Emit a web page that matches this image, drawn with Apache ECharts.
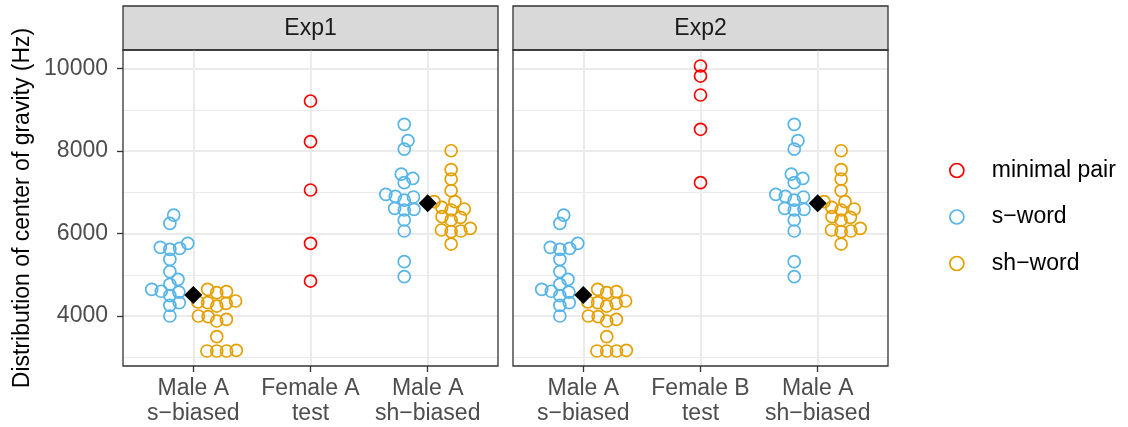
<!DOCTYPE html>
<html>
<head>
<meta charset="utf-8">
<script src="https://cdn.jsdelivr.net/npm/echarts@6/dist/echarts.min.js"></script>
<style>
html, body { margin: 0; padding: 0; background: #ffffff; }
#chart { width: 1128px; height: 427px; }
</style>
</head>
<body>
<div id="chart"></div>
<script>
// ---------------- data ----------------
const panelNames = ['Exp1', 'Exp2'];
const exp1Categories = ['Male A\ns\u2212biased', 'Female A\ntest', 'Male A\nsh\u2212biased'];
const exp2Categories = ['Male A\ns\u2212biased', 'Female B\ntest', 'Male A\nsh\u2212biased'];
const yTickValues = [4000, 6000, 8000, 10000];
const yMinorValues = [3000, 5000, 7000, 9000];
const seriesNames = ['minimal pair', 's\u2212word', 'sh\u2212word'];

// Male A, s-biased condition (same tokens shown in both experiments)
const sBiasedSWord = [4000, 4260, 4323, 4495, 4580, 4600, 4647, 4768, 4890, 5074, 5374, 5617, 5641, 5665, 5762, 6247, 6448];
const sBiasedShWord = [3152, 3152, 3152, 3168, 3499, 3879, 3919, 3984, 4000, 4242, 4307, 4323, 4340, 4364, 4565, 4589, 4647];
// Male A, sh-biased condition
const shBiasedSWord = [4953, 5317, 6061, 6327, 6570, 6586, 6611, 6810, 6885, 6900, 6950, 7232, 7338, 7440, 8048, 8250, 8648];
const shBiasedShWord = [5745, 6044, 6061, 6085, 6126, 6327, 6393, 6408, 6570, 6594, 6635, 6771, 6771, 7038, 7321, 7550, 8007];
// test talkers, minimal pairs
const exp1MinimalPair = [4848, 5762, 7055, 8226, 9212];
const exp2MinimalPair = [7232, 8527, 9358, 9818, 10061];
// condition means (black diamonds)
const exp1Means = [4510, null, 6735];
const exp2Means = [4510, null, 6735];

// ---------------- layout / style ----------------
const FONT = '"Liberation Sans", Arial, Helvetica, sans-serif';
const COLORS = { 'minimal pair': '#FF0000', 's\u2212word': '#56B4E9', 'sh\u2212word': '#E69F00' };
const GRID_LEFT = [123, 513], GRID_TOP = 50, GRID_W = 375, GRID_H = 316, STRIP_TOP = 6;
const X_MIN = 0.4, X_MAX = 3.6, Y_MIN = 2788, Y_MAX = 10449;
const DODGE = 0.2;
const SWARM_Y_PX = 9.0, SWARM_X_PX = 9.8;
const PX_PER_X = GRID_W / (X_MAX - X_MIN), PX_PER_Y = GRID_H / (Y_MAX - Y_MIN);
const GRID_COLOR = '#ebebeb';

// beeswarm ("swarm", ascending priority) offsets in pixels
function swarm(values) {
  const pts = values.map((v, i) => ({ i: i, n: v * PX_PER_Y / SWARM_Y_PX, g: 0 }));
  const order = pts.slice().sort((a, b) => a.n - b.n);
  const placed = [];
  const out = new Array(values.length).fill(0);
  order.forEach(p => {
    const hits = placed.filter(q => Math.abs(q.n - p.n) < 1);
    let best = 0;
    if (hits.length) {
      const offs = hits.map(q => Math.sqrt(1 - (p.n - q.n) * (p.n - q.n)));
      const cands = [0].concat(hits.map((q, j) => q.g + offs[j]), hits.map((q, j) => q.g - offs[j]));
      let bestAbs = Infinity;
      cands.forEach(c => {
        const bad = hits.some(q => (p.n - q.n) * (p.n - q.n) + (c - q.g) * (c - q.g) < 0.999);
        if (!bad && Math.abs(c) < bestAbs) { bestAbs = Math.abs(c); best = c; }
      });
    }
    p.g = best;
    placed.push(p);
    out[p.i] = best * SWARM_X_PX;
  });
  return out;
}

function swarmPoints(values, center) {
  const off = swarm(values);
  return values.map((v, i) => [center + off[i] / PX_PER_X, v]);
}

const panels = [
  { name: panelNames[0], categories: exp1Categories, minimal: exp1MinimalPair, means: exp1Means },
  { name: panelNames[1], categories: exp2Categories, minimal: exp2MinimalPair, means: exp2Means }
];

const grids = [], xAxes = [], yAxes = [], series = [], graphics = [];

panels.forEach((p, gi) => {
  grids.push({ left: GRID_LEFT[gi], top: GRID_TOP, width: GRID_W, height: GRID_H, show: false });
  xAxes.push({
    type: 'value', gridIndex: gi, min: X_MIN, max: X_MAX,
    axisLine: { show: false }, splitLine: { show: false },
    axisTick: { show: true, customValues: [1, 2, 3], length: 6, lineStyle: { color: '#333333', width: 1.3 } },
    axisLabel: {
      show: true, customValues: [1, 2, 3], margin: 10,
      formatter: v => p.categories[Math.round(v) - 1],
      fontSize: 23, lineHeight: 25, color: '#4d4d4d', fontFamily: FONT, align: 'center'
    }
  });
  yAxes.push({
    type: 'value', gridIndex: gi, min: Y_MIN, max: Y_MAX,
    axisLine: { show: false }, splitLine: { show: false },
    axisTick: { show: gi === 0, customValues: yTickValues, length: 6, lineStyle: { color: '#333333', width: 1.3 } },
    axisLabel: { show: gi === 0, customValues: yTickValues, margin: 15, fontSize: 23, color: '#4d4d4d', fontFamily: FONT,
      formatter: v => String(Math.round(v)) },
    name: gi === 0 ? 'Distribution of center of gravity (Hz)' : '',
    nameLocation: 'middle', nameGap: 89,
    nameTextStyle: { fontSize: 23, color: '#000000', fontFamily: FONT }
  });

  // grid lines
  const lines = [];
  [1, 2, 3].forEach(v => lines.push({ xAxis: v, lineStyle: { color: GRID_COLOR, width: 2, type: 'solid' } }));
  yTickValues.forEach(v => lines.push({ yAxis: v, lineStyle: { color: GRID_COLOR, width: 2, type: 'solid' } }));
  yMinorValues.forEach(v => lines.push({ yAxis: v, lineStyle: { color: GRID_COLOR, width: 1.1, type: 'solid' } }));
  series.push({
    type: 'scatter', name: '_grid' + gi, xAxisIndex: gi, yAxisIndex: gi, data: [], silent: true, z: 1,
    markLine: { silent: true, z: 1, animation: false, symbol: ['none', 'none'], label: { show: false }, emphasis: { disabled: true }, data: lines }
  });

  const pointStyle = name => ({
    type: 'scatter', name: name, xAxisIndex: gi, yAxisIndex: gi, symbol: 'circle', symbolSize: 12, z: 3,
    itemStyle: { color: 'rgba(0,0,0,0)', borderColor: COLORS[name], borderWidth: 1.7, opacity: 1 },
    emphasis: { disabled: true }
  });

  const red = pointStyle(seriesNames[0]);
  red.data = swarmPoints(p.minimal, 2);
  const blue = pointStyle(seriesNames[1]);
  blue.data = swarmPoints(sBiasedSWord, 1 - DODGE).concat(swarmPoints(shBiasedSWord, 3 - DODGE));
  const orange = pointStyle(seriesNames[2]);
  orange.data = swarmPoints(sBiasedShWord, 1 + DODGE).concat(swarmPoints(shBiasedShWord, 3 + DODGE));
  series.push(red, blue, orange);

  series.push({
    type: 'scatter', name: 'mean', xAxisIndex: gi, yAxisIndex: gi, symbol: 'diamond', symbolSize: [18, 18], z: 4,
    itemStyle: { color: '#000000', opacity: 1 }, emphasis: { disabled: true },
    data: p.means.map((m, i) => (m == null ? null : [i + 1, m])).filter(d => d)
  });

  // strip + panel border
  graphics.push({ type: 'rect', z: 0, silent: true,
    shape: { x: GRID_LEFT[gi], y: STRIP_TOP, width: GRID_W, height: GRID_TOP - STRIP_TOP },
    style: { fill: '#d9d9d9', stroke: '#333333', lineWidth: 1.3 } });
  graphics.push({ type: 'rect', z: 10, silent: true,
    shape: { x: GRID_LEFT[gi], y: GRID_TOP, width: GRID_W, height: GRID_H },
    style: { fill: 'none', stroke: '#333333', lineWidth: 1.3 } });
  graphics.push({ type: 'text', z: 11, silent: true,
    x: GRID_LEFT[gi] + GRID_W / 2, y: (STRIP_TOP + GRID_TOP) / 2 + 1,
    style: { text: p.name, fontSize: 23, fontFamily: FONT, fill: '#1a1a1a', align: 'center', verticalAlign: 'middle', textAlign: 'center', textVerticalAlign: 'middle' } });
});

const chart = echarts.init(document.getElementById('chart'), null, { renderer: 'canvas' });
chart.setOption({
  animation: false,
  backgroundColor: '#ffffff',
  grid: grids,
  xAxis: xAxes,
  yAxis: yAxes,
  legend: {
    orient: 'vertical', left: 949, top: 159, padding: 0,
    itemWidth: 14, itemHeight: 14, itemGap: 23.5, selectedMode: false,
    formatter: name => '{t|' + name + '}',
    textStyle: { rich: { t: { fontSize: 23, lineHeight: 24, padding: [0, 0, 0, 23], color: '#000000', fontFamily: FONT } } },
    data: seriesNames.map(n => ({ name: n, icon: 'circle', itemStyle: { color: 'rgba(0,0,0,0)', borderColor: COLORS[n], borderWidth: 1.7 } }))
  },
  graphic: graphics,
  series: series
});
</script>
</body>
</html>
